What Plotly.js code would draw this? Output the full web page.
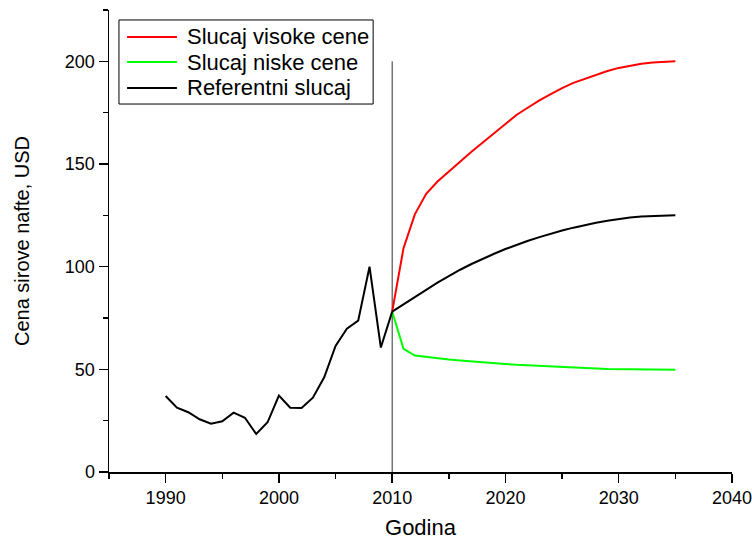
<!DOCTYPE html>
<html>
<head>
<meta charset="utf-8">
<script src="https://cdn.plot.ly/plotly-3.0.1.min.js"></script>
<style>html,body{margin:0;padding:0;background:#fff;}#chart{width:752px;height:540px;}</style>
</head>
<body>
<div id="chart"></div>
<script>
// Historical reference prices (1990-2010)
const histYears = [1990,1991,1992,1993,1994,1995,1996,1997,1998,1999,2000,2001,2002,2003,2004,2005,2006,2007,2008,2009,2010];
const histPrice = [37.0,31.3,29.1,25.7,23.5,24.7,28.9,26.4,18.5,24.2,37.2,31.3,31.2,36.2,46.1,61.4,69.8,73.7,100,60.6,78.1];

// Projections (2010-2035)
const projYears = [2010,2011,2012,2013,2014,2015,2016,2017,2018,2019,2020,2021,2022,2023,2024,2025,2026,2027,2028,2029,2030,2031,2032,2033,2034,2035];
const highPrice = [78.1,109,125.5,135.5,141.5,146.5,151.5,156,160.5,165,169.5,174,177.5,181,184,187,189.5,191.5,193.5,195.3,196.8,197.9,198.8,199.4,199.8,200];
const lowPrice  = [78.1,60,56.7,56,55.4,54.8,54.3,53.8,53.4,53,52.6,52.2,51.9,51.6,51.3,51,50.8,50.6,50.4,50.2,50.1,50,49.9,49.9,49.8,49.8];
const refPrice  = [78.1,81.5,85,88.7,92.2,95.5,98.5,101.3,103.9,106.3,108.6,110.7,112.6,114.4,116.1,117.6,119,120.3,121.4,122.4,123.2,123.9,124.4,124.7,124.9,125];

const legendNames = ['Slucaj visoke cene','Slucaj niske cene','Referentni slucaj'];
const seriesColors = ['#ff0000','#00ff00','#000000'];
const xTitle = 'Godina';
const yTitle = 'Cena sirove nafte, USD';
const markerYear = 2010;
const markerTop = 200;

const font = 'Arial, "Liberation Sans", sans-serif';

const traces = [
  {x: projYears, y: highPrice, name: legendNames[0], mode: 'lines', line: {color: seriesColors[0], width: 2}},
  {x: projYears, y: lowPrice, name: legendNames[1], mode: 'lines', line: {color: seriesColors[1], width: 2}},
  {x: projYears, y: refPrice, name: legendNames[2], mode: 'lines', line: {color: seriesColors[2], width: 2}},
  {x: histYears, y: histPrice, name: legendNames[2], mode: 'lines', line: {color: seriesColors[2], width: 2}}
];

// Custom legend box (paper coordinates of the plot area)
const legBox = {x0: 0.016, x1: 0.424, y0: 0.7965, y1: 0.9784};
const legRows = [0.9416, 0.8874, 0.8312];
const legLine = {x0: 0.029, x1: 0.109};
const legTextX = 0.122;

const shapes = [{
  type: 'line', xref: 'x', yref: 'y', layer: 'below',
  x0: markerYear, x1: markerYear, y0: 0, y1: markerTop,
  line: {color: '#333', width: 1}
}, {
  type: 'rect', xref: 'paper', yref: 'paper',
  x0: legBox.x0, x1: legBox.x1, y0: legBox.y0, y1: legBox.y1,
  line: {color: '#000', width: 1}, fillcolor: '#fff', layer: 'above'
}];
const annotations = [];
legendNames.forEach((name, i) => {
  shapes.push({type: 'line', xref: 'paper', yref: 'paper', layer: 'above',
    x0: legLine.x0, x1: legLine.x1, y0: legRows[i], y1: legRows[i],
    line: {color: seriesColors[i], width: 2}});
  annotations.push({xref: 'paper', yref: 'paper', x: legTextX, y: legRows[i],
    xanchor: 'left', yanchor: 'middle', showarrow: false, text: name,
    font: {family: font, size: 22, color: '#000'}});
});

const layout = {
  width: 752, height: 540,
  margin: {l: 109, r: 20, t: 10, b: 68},
  paper_bgcolor: '#fff', plot_bgcolor: '#fff',
  font: {family: font, color: '#000', size: 18},
  showlegend: false,
  xaxis: {
    range: [1985, 2040], tick0: 1990, dtick: 10,
    showgrid: false, zeroline: false,
    showline: true, linecolor: '#000', linewidth: 1.5,
    ticks: 'outside', ticklen: 9, tickwidth: 1.5, tickcolor: '#000',
    minor: {dtick: 5, tick0: 1985, ticks: 'outside', ticklen: 5, tickwidth: 1.5, tickcolor: '#000', showgrid: false},
    tickfont: {family: font, size: 18},
    ticklabeloverflow: 'allow',
    title: {text: xTitle, font: {family: font, size: 22}, standoff: 16}
  },
  yaxis: {
    range: [0, 225], tick0: 0, dtick: 50,
    showgrid: false, zeroline: false,
    showline: true, linecolor: '#000', linewidth: 1.5,
    ticks: 'outside', ticklen: 9, tickwidth: 1.5, tickcolor: '#000',
    minor: {dtick: 25, tick0: 0, ticks: 'outside', ticklen: 5, tickwidth: 1.5, tickcolor: '#000', showgrid: false},
    tickfont: {family: font, size: 18},
    ticklabeloverflow: 'allow',
    title: {text: yTitle, font: {family: font, size: 20}, standoff: 30}
  },
  shapes: shapes,
  annotations: annotations
};

Plotly.newPlot('chart', traces, layout, {staticPlot: true, displayModeBar: false});
</script>
</body>
</html>
